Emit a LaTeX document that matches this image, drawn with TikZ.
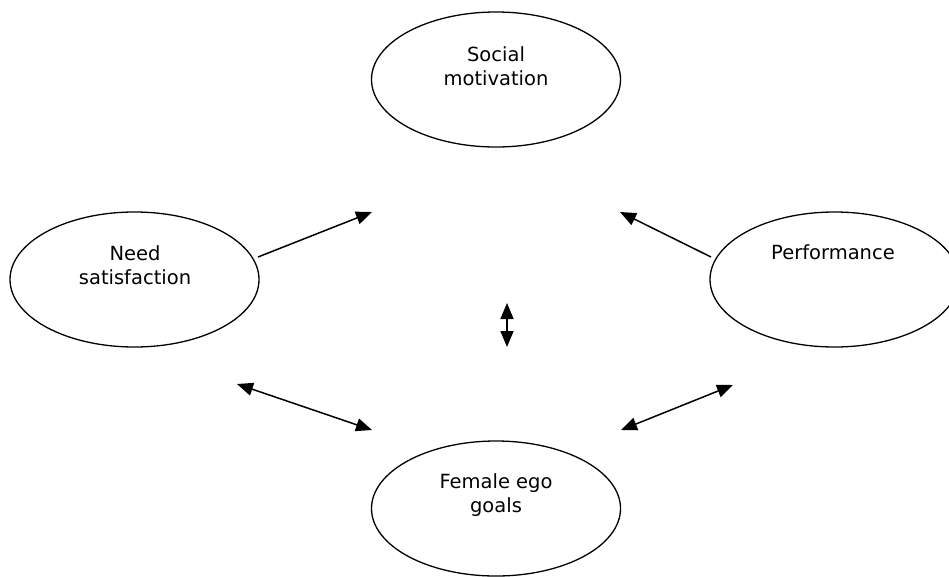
\documentclass[tikz,border=0pt]{standalone}
\usepackage{fontspec}
\setmainfont{DejaVu Sans}
\usetikzlibrary{shapes.geometric,arrows.meta}
\begin{document}
\begin{tikzpicture}[x=1pt,y=-1pt,
  oval/.style={draw,line width=1.3pt,ellipse,inner sep=0pt,minimum width=249pt,minimum height=135pt},
  lbl/.style={align=center,inner sep=0pt,font=\fontsize{19.5}{24}\selectfont},
  conn/.style={line width=1.5pt,-{Triangle[length=16pt,width=13pt]}},
  dconn/.style={line width=1.5pt,{Triangle[length=16pt,width=13pt]}-{Triangle[length=16pt,width=13pt]}}]
\useasboundingbox (0,0) rectangle (949,576);
\node[oval] (soc) at (496,79.5) {};
\node[oval] (need) at (134.5,279.5) {};
\node[oval] (perf) at (834.5,279.5) {};
\node[oval] (fem) at (496,508.5) {};
\node[lbl] (socT) at (496,66) {Social\\motivation};
\node[lbl] (needT) at (135,265) {Need\\satisfaction};
\node[lbl] (perfT) at (833,252) {Performance};
\node[lbl] (femT) at (496,495) {Female ego\\goals};
\coordinate (a1s) at (258,257);
\coordinate (a1e) at (372,212);
\coordinate (a2s) at (711,257);
\coordinate (a2e) at (620,212);
\coordinate (vt) at (507,303);
\coordinate (vb) at (507,347);
\coordinate (l1) at (237,384);
\coordinate (l2) at (372,430);
\coordinate (r1) at (621,430);
\coordinate (r2) at (733,385);
\draw[conn] (a1s) -- (a1e);
\draw[conn] (a2s) -- (a2e);
\draw[dconn] (vt) -- (vb);
\draw[dconn] (l1) -- (l2);
\draw[dconn] (r1) -- (r2);
\end{tikzpicture}
\end{document}
